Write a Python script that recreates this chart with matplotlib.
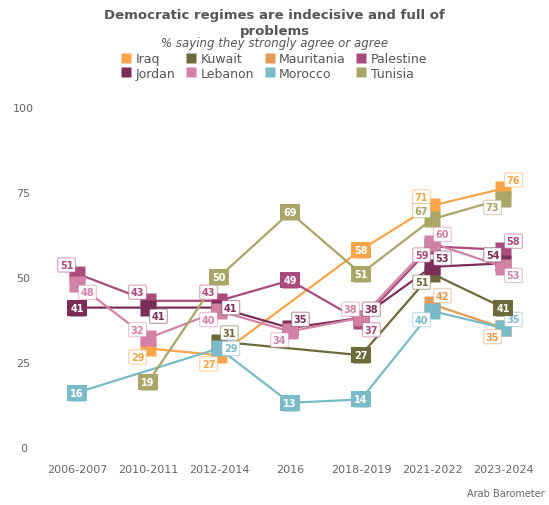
import numpy as np
import matplotlib.pyplot as plt
from matplotlib.lines import Line2D
from matplotlib.colors import to_rgba

periods = ["2006-2007", "2010-2011", "2012-2014", "2016", "2018-2019", "2021-2022", "2023-2024"]
nan = np.nan

countries = ["Iraq", "Kuwait", "Mauritania", "Palestine", "Jordan", "Lebanon", "Morocco", "Tunisia"]
iraq       = [nan, 29, 27, nan, 58, 71, 76]
kuwait     = [nan, nan, 31, nan, 27, 51, 41]
mauritania = [nan, nan, nan, nan, nan, 42, 35]
palestine  = [51, 43, 43, 49, 37, 59, 58]
jordan     = [41, 41, 41, 35, 38, 53, 54]
lebanon    = [48, 32, 40, 34, 38, 60, 53]
morocco    = [16, nan, 29, 13, 14, 40, 35]
tunisia    = [nan, 19, 50, 69, 51, 67, 73]

series = [iraq, kuwait, mauritania, palestine, jordan, lebanon, morocco, tunisia]
colors = ["#F9A54B", "#6C6A3B", "#E29B52", "#A94B7D", "#7B2F58", "#D283A5", "#7BBAC8", "#A9A668"]

# where each value label sits relative to its marker (c = inside the marker)
label_pos = [
    [None, "ll", "ll", None, "c", "ul", "ur"],
    [None, None, "ur", None, "c", "ll", "c"],
    [None, None, None, None, None, "ur", "ll"],
    ["ul", "ul", "ul", "c", "lr", "ll", "ur"],
    ["c", "lr", "r", "ur", "ur", "ur", "ul"],
    ["lr", "ul", "ll", "ll", "ul", "ur", "lr"],
    ["c", None, "r", "c", "c", "ll", "ur"],
    [None, "c", "c", "c", "c", "ul", "ll"],
]
offsets = {"ul": (-7.5, 6.2), "ur": (7.5, 6.2), "ll": (-7.5, -6.2), "lr": (7.5, -6.2), "r": (8.5, 0)}

FONT = "DejaVu Sans"
GREY = "#555555"
plt.rcParams["font.family"] = FONT

fig = plt.figure(figsize=(5.49, 5.06), dpi=100)
ax = fig.add_axes([41.5 / 549, 58 / 506, 497 / 549, 340 / 506])
x = np.arange(len(periods))

for vals, col, pos in zip(series, colors, label_pos):
    v = np.array(vals, dtype=float)
    ok = ~np.isnan(v)
    ax.plot(x[ok], v[ok], color=col, lw=1.6, zorder=2, solid_capstyle="butt")
    ax.plot(x[ok], v[ok], ls="none", marker="s", ms=11.5, mfc=col, mec="none",
            zorder=3, clip_on=False)
    for xi, yi, p in zip(x, v, pos):
        if np.isnan(yi) or p is None:
            continue
        txt = f"{int(yi)}"
        if p == "c":
            ax.annotate(txt, (xi, yi), ha="center", va="center", color="white",
                        fontsize=7, fontweight="bold", zorder=6,
                        bbox=dict(boxstyle="square,pad=0.3", fc=col, ec="none"))
        else:
            dx, dy = offsets[p]
            ax.annotate(txt, (xi, yi), xytext=(dx, dy), textcoords="offset points",
                        ha="center", va="center", color=col, fontsize=7,
                        fontweight="bold", zorder=5,
                        bbox=dict(boxstyle="round,pad=0.22,rounding_size=0.15",
                                  fc="white", ec=to_rgba(col, 0.45), lw=0.9))

ax.set_xlim(-0.5, 6.5)
ax.set_ylim(0, 100)
ax.set_xticks(x)
ax.set_xticklabels(periods)
ax.set_yticks([0, 25, 50, 75, 100])
ax.tick_params(axis="x", length=0, pad=12, labelsize=8, labelcolor="#666666")
ax.tick_params(axis="y", length=0, pad=13, labelsize=8, labelcolor="#666666")
for lbl in ax.get_yticklabels():
    lbl.set_horizontalalignment("center")
for s in ax.spines.values():
    s.set_visible(False)

fig.text(0.5, 1 - 16 / 506, "Democratic regimes are indecisive and full of",
         ha="center", va="center", fontsize=9.5, fontweight="bold", color=GREY)
fig.text(0.5, 1 - 31 / 506, "problems", ha="center", va="center",
         fontsize=9.5, fontweight="bold", color=GREY)
fig.text(0.5, 1 - 44 / 506, "% saying they strongly agree or agree", ha="center",
         va="center", fontsize=8.5, style="italic", color=GREY)

# legend fills column-wise, so interleave the two rows
order = [0, 4, 1, 5, 2, 6, 3, 7]
handles = [Line2D([0], [0], ls="none", marker="s", ms=7, mfc=colors[i], mec="none",
                  label=countries[i]) for i in order]
fig.legend(handles=handles, ncol=4, loc="center", bbox_to_anchor=(0.5, 1 - 67 / 506),
           frameon=False, fontsize=9, handlelength=0.7, handletextpad=0.4,
           columnspacing=0.9, labelspacing=0.1, labelcolor=GREY, borderpad=0)

fig.text(1 - 4 / 549, 1 - 494 / 506, "Arab Barometer", ha="right", va="center",
         fontsize=7, color="#666666")

fig.savefig("out.png", dpi=100, facecolor="white")
